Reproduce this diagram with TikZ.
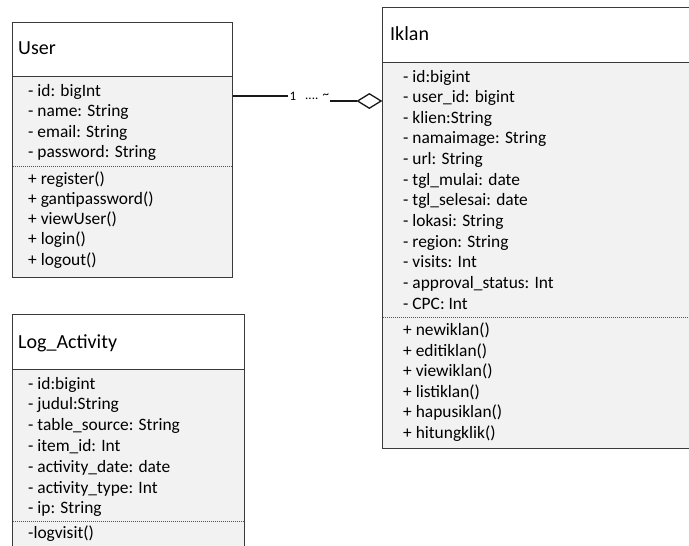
\documentclass[tikz,border=0pt]{standalone}
\usepackage{fontspec}
\setmainfont{Carlito}
\usetikzlibrary{shapes.geometric}
\definecolor{bodygray}{HTML}{F2F2F2}
\definecolor{edgegray}{HTML}{3A3A3A}
\definecolor{sepgray}{HTML}{555555}
\begin{document}
\begin{tikzpicture}[x=1pt,y=-1pt,
  box/.style={draw=edgegray, line width=1.3pt, anchor=north west, inner sep=0pt},
  headbox/.style={box, fill=white},
  bodybox/.style={box, fill=bodygray},
  title/.style={anchor=base west, inner sep=0pt, font=\fontsize{20}{24}\selectfont, text=black},
  member/.style={anchor=base west, inner sep=0pt, font=\fontsize{17.4}{20}\selectfont, text=black},
  sep/.style={draw=sepgray, line width=1pt, dash pattern=on 1.2pt off 0.8pt},
  link/.style={draw=black!90, line width=1.3pt},
  mult/.style={inner sep=0pt, font=\fontsize{13}{15}\selectfont, text=black},
  aggr/.style={diamond, draw=black!90, line width=1.3pt, fill=white, inner sep=0pt,
    minimum width=24pt, minimum height=15pt, anchor=east}]
\useasboundingbox (0,0) rectangle (689,546);
\fill[white] (0,0) rectangle (689,546);
\begin{scope}
\clip (0,0) rectangle (689,546);

% ---------- User ----------
\node[bodybox, minimum width=220pt, minimum height=201pt] (userbody) at (12,76) {};
\node[headbox, minimum width=220pt, minimum height=54pt] (userhead) at (12,22) {};
\node[title] (usertitle) at (18,54) {User};
\foreach \t [count=\i from 0] in {- id: bigInt, - name: String, - email: String, - password: String}
  \node[member] (userattr\i) at (28,96+20.5*\i) {\t};
\draw[sep] (12.7,166) -- (231.3,166);
\foreach \t [count=\i from 0] in {+ register(), + gantipassword(), + viewUser(), + login(), + logout()}
  \node[member] (userop\i) at (28,184+20.25*\i) {\t};

% ---------- Iklan ----------
\node[bodybox, minimum width=330pt, minimum height=386pt] (iklanbody) at (382,62) {};
\node[headbox, minimum width=330pt, minimum height=55pt] (iklanhead) at (382,7) {};
\node[title] (iklantitle) at (390,40) {Iklan};
\foreach \t [count=\i from 0] in {- id:bigint, - user\_id: bigint, - klien:String,
    - namaimage: String, - url: String, - tgl\_mulai: date, - tgl\_selesai: date,
    - lokasi: String, - region: String, - visits: Int, - approval\_status: Int, - CPC: Int}
  \node[member] (iklanattr\i) at (403,82+20.64*\i) {\t};
\draw[sep] (382.7,317) -- (689,317);
\foreach \t [count=\i from 0] in {+ newiklan(), + editiklan(), + viewiklan(),
    + listiklan(), + hapusiklan(), + hitungklik()}
  \node[member] (iklanop\i) at (403,335.5+20.6*\i) {\t};

% ---------- Log_Activity ----------
\node[bodybox, minimum width=232pt, minimum height=200pt] (logbody) at (12,369) {};
\node[headbox, minimum width=232pt, minimum height=55pt] (loghead) at (12,314) {};
\node[title] (logtitle) at (18,348) {Log\_Activity};
\foreach \t [count=\i from 0] in {- id:bigint, - judul:String, - table\_source: String,
    - item\_id: Int, - activity\_date: date, - activity\_type: Int, - ip: String}
  \node[member] (logattr\i) at (28,389+20.8*\i) {\t};
\draw[sep] (12.7,521) -- (243.3,521);
\node[member] (logop0) at (28,538) {-logvisit()};
\end{scope}

% ---------- User 1 .... * Iklan (aggregation) ----------
\node[aggr] (agg) at (iklanbody.west |- 0,101) {};
\coordinate (linkA) at (288,96);
\coordinate (linkB) at (330,101);
\draw[link] (userbody.east |- 0,96) -- (linkA);
\node[mult, anchor=base west] (mone) at (289.5,100) {1};
\node[mult, anchor=base west] (mdots) at (305,99) {....};
\node[mult, anchor=base west] (mmany) at (322.5,98) {\textasciitilde};
\draw[link] (linkB) -- (agg.west);
\end{tikzpicture}
\end{document}
